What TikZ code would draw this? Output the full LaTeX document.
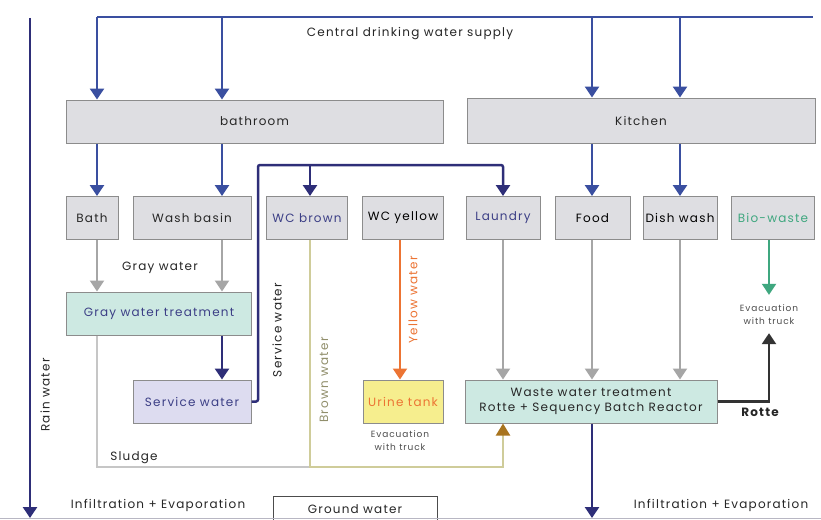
\documentclass[tikz,border=0pt]{standalone}
\usepackage{fontspec}
\setmainfont{Poppins}[LetterSpace=10]
\usetikzlibrary{arrows.meta,calc}
\definecolor{supply}{HTML}{3A4FA0}
\definecolor{navy}{HTML}{2E2E78}
\definecolor{boxfill}{HTML}{DEDEE2}
\definecolor{boxline}{HTML}{8C8C8C}
\definecolor{teal}{HTML}{CDE9E2}
\definecolor{lav}{HTML}{DDDCF0}
\definecolor{urine}{HTML}{F6EE8E}
\definecolor{grayarr}{HTML}{A6A6A6}
\definecolor{brownln}{HTML}{CFCC9A}
\definecolor{brownhd}{HTML}{A8741E}
\definecolor{orangeln}{HTML}{EC7434}
\definecolor{greenln}{HTML}{3FA77F}
\definecolor{bluetxt}{HTML}{3C3F86}
\definecolor{sludgeln}{HTML}{C6C6C6}
\tikzset{
  box/.style={draw=boxline,line width=1pt,fill=boxfill,inner sep=0pt,align=center,font=\fontsize{12}{14}\selectfont,text=black!85},
  lbl/.style={inner sep=0pt,align=center,font=\fontsize{12}{14}\selectfont,text=black!85},
  small/.style={inner sep=0pt,align=center,font=\fontsize{9}{13}\selectfont,text=black!70},
  tip/.style={-{Triangle[width=14pt,length=11pt]}},
  supplyln/.style={draw=supply,line width=2.5pt},
  supplyarr/.style={supplyln,tip},
  grayflow/.style={draw=grayarr,line width=2pt,tip},
  navyarr/.style={draw=navy,line width=2.5pt,tip},
}
\begin{document}
\begin{tikzpicture}[x=1pt,y=-1pt]
\useasboundingbox (0,0) rectangle (821,519);
\fill[white] (0,0) rectangle (821,519);
% column coordinates
\coordinate (c1) at (97,0);
\coordinate (c2) at (222,0);
\coordinate (c3) at (310,0);
\coordinate (c4) at (400,0);
\coordinate (c5) at (503,0);
\coordinate (c6) at (592,0);
\coordinate (c7) at (680,0);
\coordinate (c8) at (769,0);
% supply
\coordinate (sL) at (97,17);
\coordinate (sR) at (813,17);
\node[lbl] (supplytxt) at (410,34) {Central drinking water supply};
% rooms
\node[box,minimum width=377pt,minimum height=43pt] (bathroom) at (254.5,121.5) {bathroom};
\node[box,minimum width=348pt,minimum height=45pt] (kitchen) at (641,120.5) {Kitchen};
% uses
\node[box,minimum width=52pt,minimum height=43pt] (bath) at (92,218) {Bath};
\node[box,minimum width=118pt,minimum height=43pt] (wash) at (192,218) {Wash basin};
\node[box,minimum width=81pt,minimum height=43pt,text=bluetxt] (wcb) at (307,218) {WC brown};
\node[box,minimum width=81pt,minimum height=43pt,text=black] (wcy) at (403,218) {WC yellow};
\node[box,minimum width=74pt,minimum height=43pt,text=bluetxt] (laundry) at (503,218) {Laundry};
\node[box,minimum width=75pt,minimum height=43pt,text=black] (food) at (592.5,218) {Food};
\node[box,minimum width=74pt,minimum height=43pt,text=black] (dish) at (680,218) {Dish wash};
\node[box,minimum width=83pt,minimum height=43pt,text=greenln] (bio) at (773,218) {Bio-waste};
% treatment
\node[box,fill=teal,minimum width=185pt,minimum height=43pt,text=bluetxt] (gwt) at (159,313.5) {Gray water treatment};
\node[box,fill=lav,minimum width=118pt,minimum height=43pt,text=bluetxt] (svc) at (192,401.5) {Service water};
\node[box,fill=urine,minimum width=80pt,minimum height=43pt,text=orangeln] (urine) at (403,401.5) {Urine tank};
\node[box,fill=teal,minimum width=252pt,minimum height=43pt,font=\fontsize{12}{15}\selectfont] (wwt) at (591,401.5) {Waste water treatment\\Rotte + Sequency Batch Reactor};
% labels
\node[lbl] (graytxt) at (160,268) {Gray water};
\node[small] (evac1) at (400,441) {Evacuation\\with truck};
\node[small] (evac2) at (769,315) {Evacuation\\with truck};
\node[lbl,font=\fontsize{12}{14}\selectfont\bfseries,text=black!85] (rotte) at (760,412) {Rotte};
\node[lbl] (sludgetxt) at (134,458) {Sludge};
\node[lbl,rotate=90] (raintxt) at (45,395) {Rain water};
\node[lbl,rotate=90] (svctxt) at (277,330) {Service water};
\node[lbl,rotate=90,text=brownln!70!black] (browntxt) at (324,380) {Brown water};
\node[lbl,rotate=90,text=orangeln] (yellowtxt) at (413,300) {Yellow water};
\node[lbl] (inf1) at (158,505) {Infiltration + Evaporation};
\node[lbl] (inf2) at (721,505) {Infiltration + Evaporation};
\node[draw=black!70,line width=0.8pt,fill=white,minimum width=164pt,minimum height=26pt,inner sep=0pt,anchor=north,font=\fontsize{12}{14}\selectfont,text=black!85] (ground) at (355,496) {\raisebox{-2pt}{Ground water}};
\draw[draw=lav!60!gray,line width=1pt] (0,518) -- (821,518);
% rain water
\coordinate (rainTop) at (30,18);
\coordinate (rainBot) at (30,518);
\draw[draw=navy,line width=2.5pt,tip] (rainTop) -- (rainBot);
% supply lines
\draw[supplyln] (sL) -- (sR);
\draw[supplyarr] (sL) -- (bathroom.north -| c1);
\draw[supplyarr] (sL -| c2) -- (bathroom.north -| c2);
\draw[supplyarr] (sL -| c6) -- (kitchen.north -| c6);
\draw[supplyarr] (sL -| c7) -- (kitchen.north -| c7);
\draw[supplyarr] (bathroom.south -| c1) -- (bath.north -| c1);
\draw[supplyarr] (bathroom.south -| c2) -- (wash.north -| c2);
\draw[supplyarr] (kitchen.south -| c6) -- (food.north -| c6);
\draw[supplyarr] (kitchen.south -| c7) -- (dish.north -| c7);
% gray water
\draw[grayflow] (bath.south -| c1) -- (gwt.north -| c1);
\draw[grayflow] (wash.south -| c2) -- (gwt.north -| c2);
\draw[navyarr] (gwt.south -| c2) -- (svc.north -| c2);
% service water loop
\coordinate (svTop) at (258,165);
\draw[draw=navy,line width=2.5pt,rounded corners=2pt,tip] (svc.east) -| (svTop) -| (laundry.north);
\draw[navyarr] (svTop -| c3) -- (wcb.north -| c3);
% sludge and brown water
\coordinate (brownJ) at (310,467);
\draw[draw=sludgeln,line width=1.6pt] (gwt.south -| c1) |- (brownJ);
\draw[draw=brownln,line width=2pt] (wcb.south -| c3) -- (brownJ) -| ([yshift=-12pt]wwt.south -| c5);
\draw[draw=brownln,line width=2pt,-{Triangle[width=14pt,length=12pt,fill=brownhd,color=brownhd]}] ([yshift=-14pt]wwt.south -| c5) -- (wwt.south -| c5);
% yellow water
\draw[draw=orangeln,line width=2pt,tip] (wcy.south -| c4) -- (urine.north -| c4);
% kitchen waste water
\draw[grayflow] (laundry.south -| c5) -- (wwt.north -| c5);
\draw[grayflow] (food.south -| c6) -- (wwt.north -| c6);
\draw[grayflow] (dish.south -| c7) -- (wwt.north -| c7);
% bio-waste
\draw[draw=greenln,line width=2pt,tip,shorten >=10pt] (bio.south -| c8) -- (evac2.north -| c8);
% rotte
\draw[draw=black!80,line width=2.5pt,tip,shorten >=8pt] (wwt.east) -| (evac2.south -| c8);
% outflow
\draw[navyarr] (wwt.south -| c6) -- (c6 |- rainBot);
\end{tikzpicture}
\end{document}
